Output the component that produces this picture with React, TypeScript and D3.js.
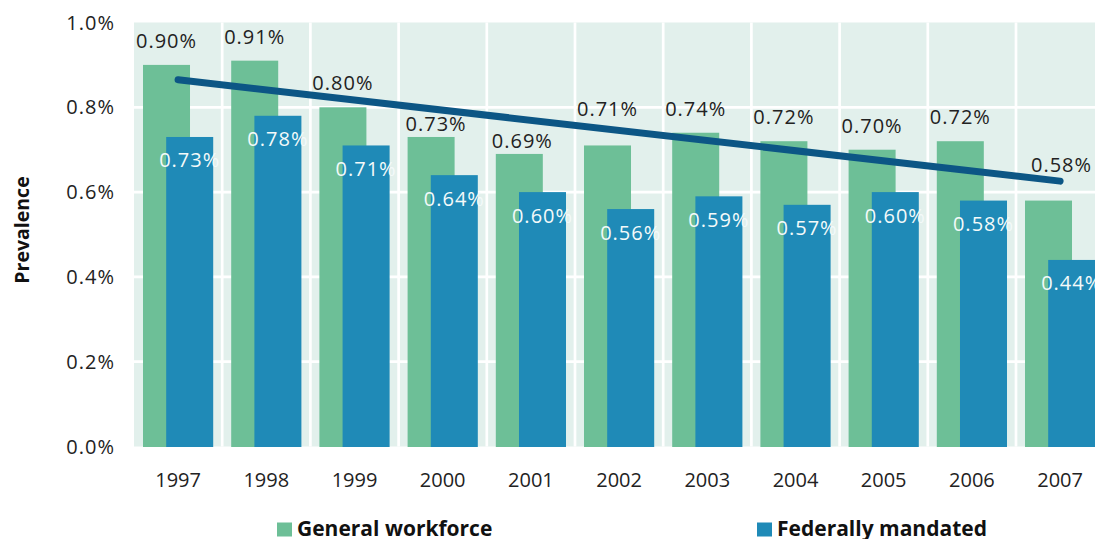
import React from "react";
import * as d3 from "d3";

const years = ["1997", "1998", "1999", "2000", "2001", "2002", "2003", "2004", "2005", "2006", "2007"];
const generalWorkforce = [0.90, 0.91, 0.80, 0.73, 0.69, 0.71, 0.74, 0.72, 0.70, 0.72, 0.58];
const federallyMandated = [0.73, 0.78, 0.71, 0.64, 0.60, 0.56, 0.59, 0.57, 0.60, 0.58, 0.44];
const yTicks = [0, 0.2, 0.4, 0.6, 0.8, 1.0];
const seriesNames = ["General workforce", "Federally mandated"];

// label placement tweaks (pixels) for the general-workforce value labels
const generalLabelLift = [17, 17, 17, 6, 6, 29, 17, 17, 17, 17, 29];
const generalLabelShift = [0, 0, 0, 5, 3, 0, 0, 0, 0, 0, 13];

const W = 1095;
const H = 539;
const GREEN = "#6dbf97";
const BLUE = "#1f8ab7";
const BG = "#e2f0ec";
const TREND = "#0c5685";
const TEXT = "#222222";
const FONT = "'Open Sans', 'Noto Sans', sans-serif";

export default function App() {
  const x = d3.scaleBand<string>().domain(years).range([134, 134 + 11 * 88.2]).padding(0);
  const y = d3.scaleLinear().domain([0, 1.0]).range([446.5, 22.5]);
  const bw = x.bandwidth();
  const barW = bw * 0.533;
  const gOff = bw * 0.102;
  const bOff = bw * 0.365;

  // least-squares trend of the general workforce series
  const idx = years.map((_, i) => i);
  const mx = d3.mean(idx)!;
  const my = d3.mean(generalWorkforce)!;
  const slope =
    d3.sum(idx, (i) => (i - mx) * (generalWorkforce[i] - my)) /
    d3.sum(idx, (i) => (i - mx) * (i - mx));
  const trendVal = (i: number) => my + slope * (i - mx);
  const trendPts: [number, number][] = [0, years.length - 1].map((i) => [
    x(years[i])! + bw / 2,
    y(trendVal(i)),
  ]);
  const line = d3.line();

  const fmt = (v: number) => v.toFixed(2) + "%";
  const tickFmt = (v: number) => v.toFixed(1) + "%";

  const panelRight = x.range()[1];

  return (
    <svg width={W} height={H} style={{ position: "absolute", left: 0, top: 0, background: "#fff" }} fontFamily={FONT}>
      {/* panel background */}
      <rect x={x.range()[0]} y={y(1)} width={panelRight - x.range()[0]} height={y(0) - y(1)} fill={BG} />
      {/* horizontal grid */}
      {yTicks.slice(1, -1).map((t) => (
        <line key={"h" + t} x1={x.range()[0]} x2={panelRight} y1={y(t)} y2={y(t)} stroke="#fff" strokeWidth={2.7} />
      ))}
      {/* vertical grid */}
      {years.slice(1).map((yr) => (
        <line key={"v" + yr} x1={x(yr)!} x2={x(yr)!} y1={y(1)} y2={y(0)} stroke="#fff" strokeWidth={2.7} />
      ))}
      {/* bars */}
      {years.map((yr, i) => (
        <g key={"b" + yr}>
          <rect x={x(yr)! + gOff} y={y(generalWorkforce[i])} width={barW} height={y(0) - y(generalWorkforce[i]) + 0.5} fill={GREEN} />
          <rect x={x(yr)! + bOff} y={y(federallyMandated[i])} width={barW} height={y(0) - y(federallyMandated[i]) + 0.5} fill={BLUE} />
        </g>
      ))}
      {/* trend line */}
      <path d={line(trendPts)!} stroke={TREND} strokeWidth={7} strokeLinecap="round" fill="none" />
      {/* general labels */}
      {years.map((yr, i) => (
        <text
          key={"gl" + yr}
          x={x(yr)! + gOff + barW / 2 + generalLabelShift[i]}
          y={y(generalWorkforce[i]) - generalLabelLift[i]}
          textAnchor="middle"
          fontSize={20}
          letterSpacing={1}
          fill={TEXT}
        >
          {fmt(generalWorkforce[i])}
        </text>
      ))}
      {/* federal labels */}
      {years.map((yr, i) => (
        <text
          key={"fl" + yr}
          x={x(yr)! + bOff + barW / 2}
          y={y(federallyMandated[i]) + 30.5}
          textAnchor="middle"
          fontSize={20}
          letterSpacing={1}
          fill="#f4fafa"
        >
          {fmt(federallyMandated[i])}
        </text>
      ))}
      {/* y ticks */}
      {yTicks.map((t) => (
        <text key={"yt" + t} x={115} y={y(t)} dy="0.35em" textAnchor="end" fontSize={20} letterSpacing={1} fill={TEXT}>
          {tickFmt(t)}
        </text>
      ))}
      {/* x ticks */}
      {years.map((yr) => (
        <text key={"xt" + yr} x={x(yr)! + bw / 2} y={y(0) + 40.5} textAnchor="middle" fontSize={20} fill={TEXT}>
          {yr}
        </text>
      ))}
      {/* y axis title */}
      <text transform="translate(28.5,230) rotate(-90)" textAnchor="middle" fontSize={19.5} fontWeight="bold" fill="#111">
        Prevalence
      </text>
      {/* legend */}
      {seriesNames.map((name, i) => {
        const lx = i === 0 ? 277 : 757;
        return (
          <g key={"lg" + name}>
            <rect x={lx} y={522.5} width={15} height={14} fill={i === 0 ? GREEN : BLUE} />
            <text x={lx + 20} y={535.5} fontSize={21} fontWeight="bold" fill="#111">
              {name}
            </text>
          </g>
        );
      })}
    </svg>
  );
}
